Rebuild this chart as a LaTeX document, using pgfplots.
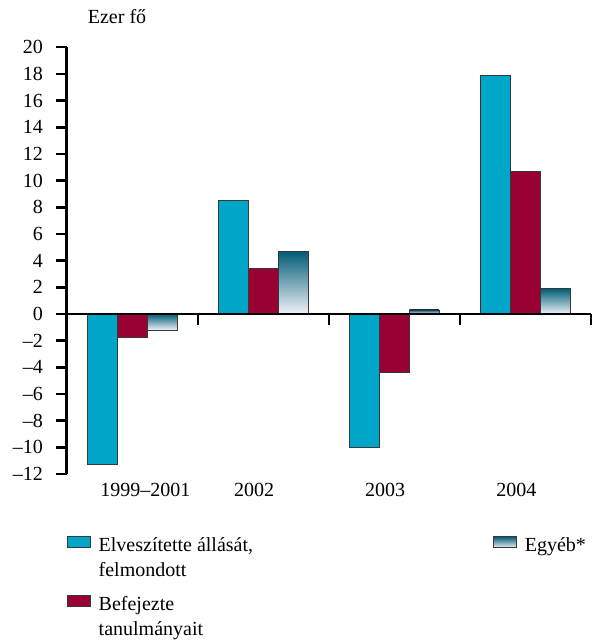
\documentclass[border=0pt]{standalone}
\usepackage{fontspec}
\setmainfont{Liberation Serif}
\usepackage{pgfplots}
\pgfplotsset{compat=1.18}
\definecolor{cyanbar}{RGB}{0,166,200}
\definecolor{redbar}{RGB}{153,0,51}
\definecolor{gradtop}{RGB}{0,92,118}
\definecolor{gradmid}{RGB}{125,148,168}
\definecolor{gradbot}{RGB}{240,242,248}
\definecolor{barline}{RGB}{55,55,60}
\begin{document}
\begin{tikzpicture}[font=\fontsize{20}{25}\selectfont]
\begin{axis}[
  scale only axis, width=524.3pt, height=426.7pt,
  xmin=-0.5, xmax=3.5, ymin=-12, ymax=20,
  axis y line*=left, axis x line*=bottom,
  x axis line style={draw=none},
  y axis line style={line width=2.4pt, black},
  ytick={-12,-10,...,20},
  yticklabels={–12,–10,–8,–6,–4,–2,0,2,4,6,8,10,12,14,16,18,20},
  xtick={0.1,0.93,1.93,2.93},
  xticklabels={1999–2001,2002,2003,2004},
  major x tick style={draw=none},
  major y tick style={line width=2.4pt, black},
  tick align=outside,
  major tick length=10.5pt,
  yticklabel style={inner sep=0pt, xshift=-13pt},
  xticklabel style={inner sep=0pt, anchor=base, yshift=-12pt},
  ybar, bar width=0.228,
  every axis plot/.append style={draw=barline, line width=0.8pt},
  legend columns=2, transpose legend,
  legend image code/.code={\draw[#1] (0pt,4pt) rectangle (23pt,15pt);},
  legend style={draw=none, fill=none, at={(0,0)}, anchor=north west,
    yshift=-60pt, xshift=0pt, inner sep=0pt,
    nodes={inner sep=0pt},
    cells={anchor=base west},
    row sep=40pt,
    /tikz/every odd column/.append style={column sep=8pt},
    /tikz/every even column/.append style={column sep=240pt}},
  gradbar/.style={shading=axis, top color=gradtop, middle color=gradmid, bottom color=gradbot, bar shift=0.228},
  clip=false,
]
\addplot[fill=cyanbar, bar shift=-0.228] coordinates {(0,-11.3) (1,8.5) (2,-10.0) (3,17.9)};
\addlegendentry{\begin{tabular}[t]{@{}l@{}}Elveszítette állását,\\felmondott\end{tabular}}
\addplot[fill=redbar, bar shift=0] coordinates {(0,-1.75) (1,3.4) (2,-4.4) (3,10.7)};
\addlegendentry{\begin{tabular}[t]{@{}l@{}}Befejezte\\tanulmányait\end{tabular}}
\addplot[gradbar] coordinates {(0,-1.2)};
\addlegendentry{Egyéb*}
\addplot[gradbar, forget plot] coordinates {(1,4.7)};
\addplot[gradbar, forget plot] coordinates {(2,0.3)};
\addplot[gradbar, forget plot] coordinates {(3,1.9)};
\node[anchor=base west, inner sep=0pt, xshift=21pt, yshift=24pt] at (rel axis cs:0,1) {Ezer fő};
\end{axis}
\begin{axis}[
  scale only axis, width=524.3pt, height=426.7pt,
  xmin=-0.5, xmax=3.5, ymin=-12, ymax=20,
  axis x line=middle, axis y line=none,
  xtick={0.5,1.5,2.5,3.5}, xticklabels={},
  ymajorticks=false,
  tick align=outside, major tick length=11pt,
  x axis line style={-, line width=2.4pt, black},
  major x tick style={line width=2.4pt, black},
]
\end{axis}
\pgfresetboundingbox
\path (current axis.south west) ++(-66.7pt,-166pt) rectangle ++(592pt,640pt);
\end{tikzpicture}
\end{document}
